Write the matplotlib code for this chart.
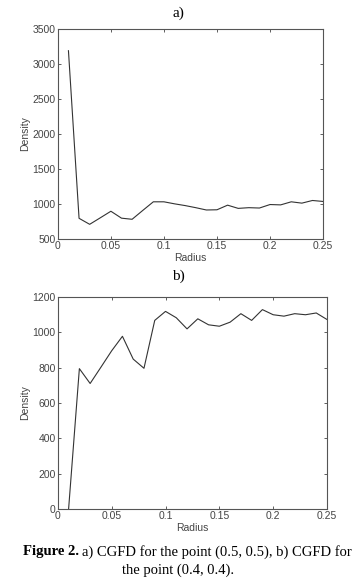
import numpy as np
import matplotlib.pyplot as plt

radius = [0.01, 0.02, 0.03, 0.04, 0.05, 0.06, 0.07, 0.08, 0.09, 0.10,
          0.11, 0.12, 0.13, 0.14, 0.15, 0.16, 0.17, 0.18, 0.19, 0.20,
          0.21, 0.22, 0.23, 0.24, 0.25]
density_a = [3190, 793, 707, 800, 894, 795, 779, 905, 1029, 1029,
             1000, 975, 945, 912, 915, 981, 935, 945, 940, 990,
             985, 1029, 1010, 1048, 1034]
density_b = [0, 794, 710, 802, 895, 977, 848, 796, 1067, 1118,
             1082, 1019, 1076, 1042, 1034, 1057, 1105, 1067, 1128, 1099,
             1091, 1105, 1099, 1109, 1072]

xticks = [0, 0.05, 0.1, 0.15, 0.2, 0.25]
xticklabels = ["0", "0.05", "0.1", "0.15", "0.2", "0.25"]

tick_font = "Liberation Sans"
serif = "Liberation Serif"
grey = "#444444"


def style(ax, ylim, yticks):
    ax.set_xlim(0, 0.25)
    ax.set_ylim(*ylim)
    ax.set_xticks(xticks)
    ax.set_xticklabels(xticklabels)
    ax.set_yticks(yticks)
    ax.tick_params(direction="in", length=2.5, width=0.6, top=True, right=True,
                   labelsize=7.5, colors=grey, pad=1.5)
    for lab in ax.get_xticklabels() + ax.get_yticklabels():
        lab.set_family(tick_font)
    for s in ax.spines.values():
        s.set_linewidth(0.8)
        s.set_color("#555555")
    ax.set_xlabel("Radius", fontsize=7.5, family=tick_font, color=grey, labelpad=1.5)
    ax.set_ylabel("Density", fontsize=7.5, family=tick_font, color=grey, labelpad=2)


fig = plt.figure(figsize=(3.57, 5.81), dpi=100)
axA = fig.add_axes([0.162, 0.589, 0.743, 0.361])
axB = fig.add_axes([0.162, 0.124, 0.754, 0.365])

axA.plot(radius, density_a, color="#333333", lw=0.8)
style(axA, (500, 3500), range(500, 3501, 500))
axB.plot(radius, density_b, color="#333333", lw=0.8)
style(axB, (0, 1200), range(0, 1201, 200))

fig.text(0.5, 1 - 13 / 581, "a)", ha="center", va="center", fontsize=11, family=serif)
fig.text(0.5, 1 - 276 / 581, "b)", ha="center", va="center", fontsize=11, family=serif)

fig.text(0.221, 1 - 552 / 581, "Figure 2.", ha="right", va="center", fontsize=10.5,
         family=serif, weight="bold")
fig.text(0.229, 1 - 552 / 581, "a) CGFD for the point (0.5, 0.5), b) CGFD for",
         ha="left", va="center", fontsize=10.5, family=serif)
fig.text(0.5, 1 - 570 / 581, "the point (0.4, 0.4).", ha="center", va="center",
         fontsize=10.5, family=serif)

fig.savefig("out.png", dpi=100)
